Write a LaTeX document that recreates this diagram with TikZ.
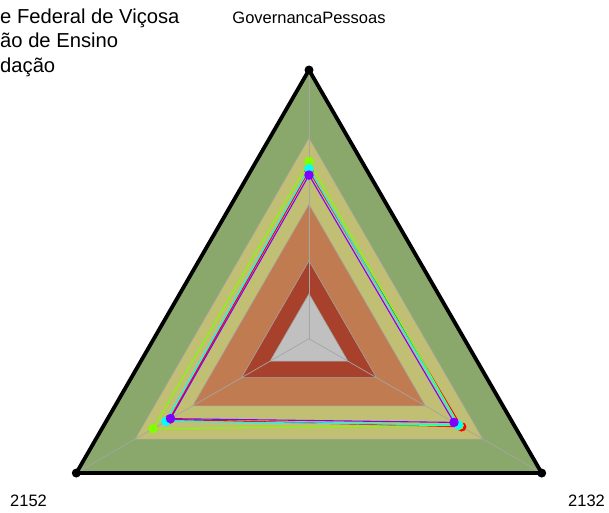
\documentclass[tikz,border=0pt]{standalone}
\usepackage{fontspec}
\setmainfont{Liberation Sans}
\usetikzlibrary{calc}
\definecolor{bandgreen}{RGB}{138,168,107}
\definecolor{bandyellow}{RGB}{193,191,115}
\definecolor{bandorange}{RGB}{192,123,80}
\definecolor{bandred}{RGB}{167,65,43}
\definecolor{bandgrey}{RGB}{192,192,192}
\definecolor{gridgrey}{RGB}{165,165,165}
\definecolor{sred}{RGB}{255,0,0}
\definecolor{sgreen}{RGB}{128,255,0}
\definecolor{scyan}{RGB}{0,255,255}
\definecolor{spurple}{RGB}{128,0,255}
\begin{document}
\begin{tikzpicture}[x=1pt,y=1pt,
  band/.style={draw=gridgrey,line width=0.6pt},
  axisline/.style={draw=gridgrey,line width=0.7pt},
  series/.style={line width=1.1pt,line join=round},
  dot/.style={circle,fill=#1,inner sep=0pt,minimum size=9.5pt},
  vdot/.style={circle,fill=black,inner sep=0pt,minimum size=9pt},
  lab/.style={font=\fontsize{16.5}{18}\selectfont,inner sep=0pt},
  ttl/.style={font=\fontsize{20.2}{24}\selectfont,inner sep=0pt,anchor=base west}]
\useasboundingbox (0,0) rectangle (609,512);
\def\R{268.7}
\coordinate (C) at (309,173.3);
% bands
\foreach \f/\col in {1/bandgreen,0.747/bandyellow,0.5/bandorange,0.29/bandred,0.167/bandgrey}
  \path[band,fill=\col] ($(C)+(90:\f*\R)$) -- ($(C)+(210:\f*\R)$) -- ($(C)+(330:\f*\R)$) -- cycle;
% axes
\coordinate (T) at ($(C)+(90:\R)$);
\coordinate (L) at ($(C)+(210:\R)$);
\coordinate (Rr) at ($(C)+(330:\R)$);
\draw[axisline] (C) -- (T);
\draw[axisline] (C) -- (L);
\draw[axisline] (C) -- (Rr);
% outer outline
\draw[line width=3.8pt,line join=round] (T) -- (L) -- (Rr) -- cycle;
\node[vdot] (vT) at (T) {};
\node[vdot] (vL) at (L) {};
\node[vdot] (vR) at (Rr) {};
% series
\foreach \n/\col/\a/\b/\c in {r/sred/0.625/0.600/0.656, g/sgreen/0.659/0.670/0.645, c/scyan/0.632/0.615/0.642, p/spurple/0.609/0.595/0.623}{
  \coordinate (\n T) at ($(C)+(90:\a*\R)$);
  \coordinate (\n L) at ($(C)+(210:\b*\R)$);
  \coordinate (\n R) at ($(C)+(330:\c*\R)$);
  \draw[series,\col] (\n T) -- (\n L) -- (\n R) -- cycle;
  \node[dot=\col] (\n mT) at (\n T) {};
  \node[dot=\col] (\n mL) at (\n L) {};
  \node[dot=\col] (\n mR) at (\n R) {};
}
% labels
\node[lab,anchor=base] (labT) at (309,488.5) {GovernancaPessoas};
\node[lab,anchor=base west] (labL) at (10,6) {2152};
\node[lab,anchor=base west] (labR) at (568,6) {2132};
% title
\node[ttl] (t1) at (0,488.5) {e Federal de Viçosa};
\node[ttl] (t2) at (0,464.0) {ão de Ensino};
\node[ttl] (t3) at (0,439.5) {dação};
\end{tikzpicture}
\end{document}
